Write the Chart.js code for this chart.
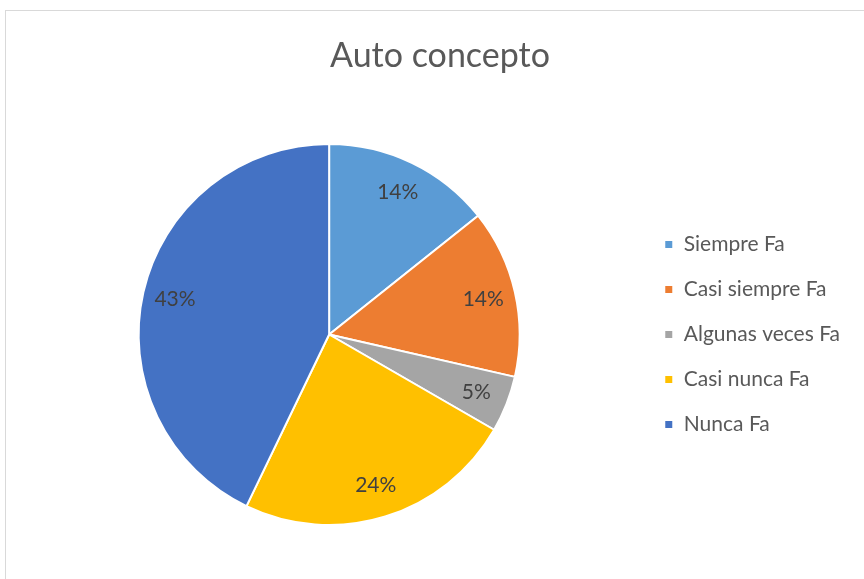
<!DOCTYPE html>
<html>
<head>
<meta charset="utf-8">
<script src="https://cdn.jsdelivr.net/npm/chart.js@4.4.1/dist/chart.umd.min.js"></script>
<style>
    html, body { margin: 0; padding: 0; background: #ffffff; overflow: hidden; }
    #frame {
        position: absolute;
        left: 5px;
        top: 10px;
        width: 900px;
        height: 600px;
        border: 1px solid #d9d9d9;
    }
    #wrap {
        position: absolute;
        left: 0;
        top: 0;
        width: 880px;
        height: 579px;
    }
</style>
</head>
<body>
<div id="frame"></div>
<div id="wrap"><canvas id="pieChart"></canvas></div>
<script>
// Chart data
const chartTitle = 'Auto concepto';
const categories = ['Siempre Fa', 'Casi siempre Fa', 'Algunas veces Fa', 'Casi nunca Fa', 'Nunca Fa'];
const counts = [3, 3, 1, 5, 9];
const sliceColors = ['#5b9bd5', '#ed7d31', '#a5a5a5', '#ffc000', '#4472c4'];

const FONT = 'Lato';

// Title drawn centred over the whole chart frame (not just the pie area)
const frameTitle = {
    id: 'frameTitle',
    afterDraw(chart) {
        const ctx = chart.ctx;
        ctx.save();
        ctx.font = '34px ' + FONT;
        ctx.fillStyle = '#595959';
        ctx.textAlign = 'center';
        ctx.textBaseline = 'alphabetic';
        ctx.fillText(chartTitle, 440, 67);
        ctx.restore();
    }
};

// Percentage labels inside each slice
const percentLabels = {
    id: 'percentLabels',
    afterDatasetsDraw(chart) {
        const ctx = chart.ctx;
        const meta = chart.getDatasetMeta(0);
        const total = counts.reduce((a, b) => a + b, 0);
        ctx.save();
        ctx.font = '21px ' + FONT;
        ctx.fillStyle = '#404040';
        ctx.textAlign = 'center';
        ctx.textBaseline = 'middle';
        meta.data.forEach((arc, i) => {
            const mid = (arc.startAngle + arc.endAngle) / 2;
            const r = arc.outerRadius * 0.83;
            const x = arc.x + Math.cos(mid) * r;
            const y = arc.y + Math.sin(mid) * r;
            ctx.fillText(Math.round(counts[i] / total * 100) + '%', x, y);
        });
        ctx.restore();
    }
};

const ctx = document.getElementById('pieChart').getContext('2d');
new Chart(ctx, {
    type: 'pie',
    data: {
        labels: categories,
        datasets: [{
            data: counts,
            backgroundColor: sliceColors,
            borderColor: '#ffffff',
            borderWidth: 2
        }]
    },
    options: {
        responsive: true,
        maintainAspectRatio: false,
        animation: false,
        layout: {
            padding: { left: 18, right: 30, top: 143, bottom: 53 }
        },
        plugins: {
            title: { display: false },
            legend: {
                position: 'right',
                align: 'center',
                fullSize: false,
                labels: {
                    color: '#595959',
                    font: { family: FONT, size: 21 },
                    boxWidth: 9,
                    boxHeight: 9,
                    padding: 24
                }
            },
            tooltip: { enabled: false }
        }
    },
    plugins: [percentLabels, frameTitle]
});
</script>
</body>
</html>
